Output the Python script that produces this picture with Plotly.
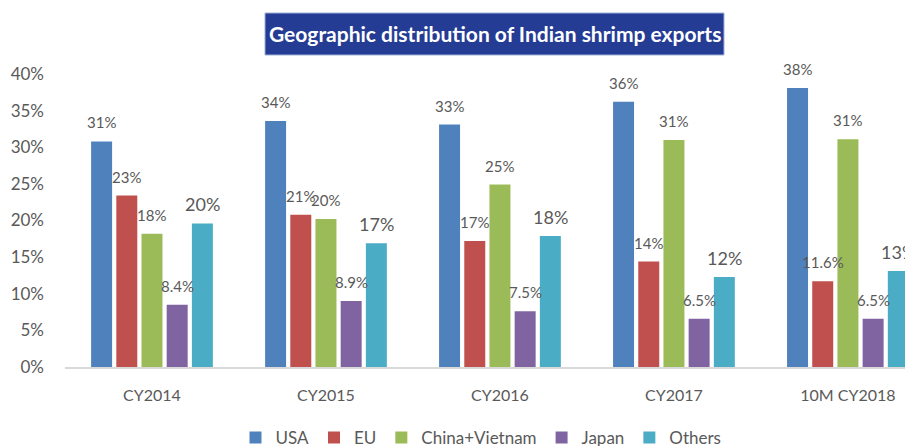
import plotly.graph_objects as go

categories = ["CY2014", "CY2015", "CY2016", "CY2017", "10M CY2018"]
series_names = ["USA", "EU", "China+Vietnam", "Japan", "Others"]
usa = [30.8, 33.6, 33.1, 36.2, 38.1]
eu = [23.4, 20.8, 17.2, 14.4, 11.7]
china_vietnam = [18.2, 20.2, 24.9, 31.0, 31.1]
japan = [8.5, 9.0, 7.6, 6.6, 6.6]
others = [19.6, 16.9, 17.9, 12.3, 13.1]
usa_labels = ["31%", "34%", "33%", "36%", "38%"]
eu_labels = ["23%", "21%", "17%", "14%", "11.6%"]
china_labels = ["18%", "20%", "25%", "31%", "31%"]
japan_labels = ["8.4%", "8.9%", "7.5%", "6.5%", "6.5%"]
others_labels = ["20%", "17%", "18%", "12%", "13%"]
y_ticks = [0, 5, 10, 15, 20, 25, 30, 35, 40]
y_tick_text = ["0%", "5%", "10%", "15%", "20%", "25%", "30%", "35%", "40%"]

colors = ["#4F81BD", "#C0504D", "#9BBB59", "#8064A2", "#4BACC6"]
values = [usa, eu, china_vietnam, japan, others]
labels = [usa_labels, eu_labels, china_labels, japan_labels, others_labels]
label_sizes = [15, 15, 15, 15, 18]

# figure is placed at an 8px page offset, so it is sized to the visible area
W, H = 905, 438
ml, mr, mt, mb = 57, 0, 66, 79
x_range = [-0.5, 4.374]
bargap = 0.276
bargroupgap = 0.167
plot_w = W - ml - mr
plot_h = H - mt - mb


def px_x(fx):
    return (fx - ml) / plot_w


def px_y(fy):
    return (H - mb - fy) / plot_h


fig = go.Figure()
for name, vals, col in zip(series_names, values, colors):
    fig.add_trace(go.Bar(x=categories, y=vals, name=name,
                         marker=dict(color=col, line=dict(width=0))))

unit_px = plot_w / (x_range[1] - x_range[0])
slot_px = unit_px * (1 - bargap) / len(series_names)

annotations = []
for i, (vals, labs, fs) in enumerate(zip(values, labels, label_sizes)):
    for c, v, t in zip(categories, vals, labs):
        annotations.append(dict(x=c, y=v, text=t, showarrow=False,
                                xref="x", yref="y",
                                xshift=(i - 2) * slot_px, yshift=19,
                                font=dict(family="Lato", size=fs, color="#595959")))

annotations.append(dict(x=px_x(486.5), y=px_y(26), xref="paper", yref="paper",
                        text="<b>Geographic distribution of Indian shrimp exports</b>",
                        showarrow=False, xanchor="center", yanchor="middle",
                        font=dict(family="Lato", size=21, color="white")))

fig.update_layout(
    width=W, height=H,
    margin=dict(l=ml, r=mr, t=mt, b=mb, autoexpand=False),
    paper_bgcolor="white", plot_bgcolor="white",
    barmode="group", bargap=bargap, bargroupgap=bargroupgap,
    annotations=annotations,
    shapes=[dict(type="rect", xref="paper", yref="paper",
                 x0=px_x(257), x1=px_x(716), y0=px_y(47), y1=px_y(5),
                 fillcolor="#253C94", line=dict(color="#9fb0d8", width=1), layer="below")],
    showlegend=True,
    legend=dict(orientation="h", x=px_x(473), xanchor="center", y=px_y(430),
                yanchor="middle", font=dict(family="Lato", size=17, color="#595959"),
                itemwidth=30, traceorder="normal"),
    xaxis=dict(range=x_range, showgrid=False, showline=True, linecolor="#D9D9D9",
               linewidth=1.5, ticks="", ticklabelstandoff=13,
               tickfont=dict(family="Lato", size=16, color="#595959")),
    yaxis=dict(range=[0, 40], tickvals=y_ticks, ticktext=y_tick_text, showgrid=False,
               zeroline=False, showline=False, ticks="", ticklabelstandoff=20,
               tickfont=dict(family="Lato", size=17, color="#595959")),
)

fig.write_html("out.html")
